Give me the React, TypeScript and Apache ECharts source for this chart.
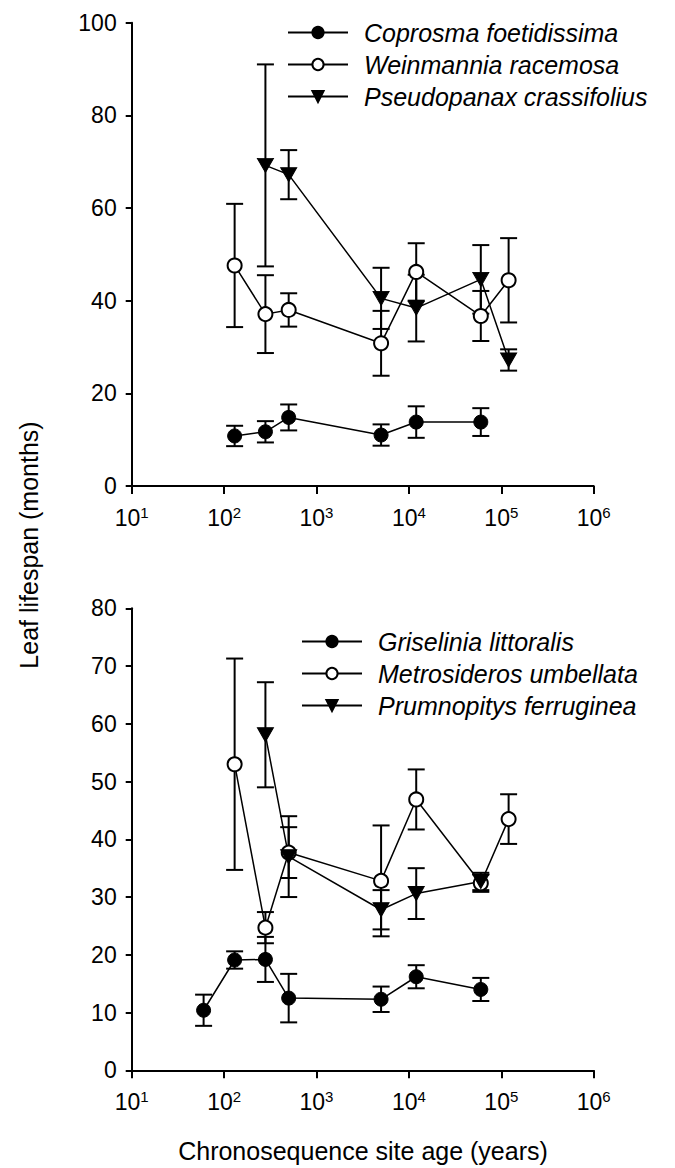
import React, { useEffect, useRef } from "react";
import * as echarts from "echarts";

// ---------- Data (top panel) ----------
const coprosmaAges = [130, 280, 500, 5000, 12000, 60000];
const coprosmaMean = [10.8, 11.7, 14.8, 11.0, 13.8, 13.8];
const coprosmaErr = [2.2, 2.3, 2.8, 2.3, 3.4, 3.0];

const weinmanniaAges = [130, 280, 500, 5000, 12000, 60000, 120000];
const weinmanniaMean = [47.6, 37.1, 38.0, 30.8, 46.2, 36.7, 44.4];
const weinmanniaErr = [13.3, 8.4, 3.6, 7.0, 6.2, 5.4, 9.1];

const pseudopanaxAges = [280, 500, 5000, 12000, 60000, 120000];
const pseudopanaxMean = [69.2, 67.2, 40.5, 38.4, 44.6, 27.2];
const pseudopanaxErr = [21.8, 5.3, 6.6, 7.2, 7.4, 2.3];

// ---------- Data (bottom panel) ----------
const griseliniaAges = [60, 130, 280, 500, 5000, 12000, 60000];
const griseliniaMean = [10.4, 19.1, 19.2, 12.5, 12.3, 16.2, 14.0];
const griseliniaErr = [2.7, 1.5, 3.9, 4.2, 2.2, 2.0, 2.0];

const metrosiderosAges = [130, 280, 500, 5000, 12000, 60000, 120000];
const metrosiderosMean = [53.0, 24.7, 37.7, 32.8, 46.9, 32.4, 43.5];
const metrosiderosErr = [18.3, 2.7, 4.4, 9.6, 5.2, 1.5, 4.3];

const prumnopitysAges = [280, 500, 5000, 12000, 60000];
const prumnopitysMean = [58.1, 37.0, 27.8, 30.6, 32.7];
const prumnopitysErr = [9.1, 7.0, 3.4, 4.4, 1.5];

const topNames = ["Coprosma foetidissima", "Weinmannia racemosa", "Pseudopanax crassifolius"];
const bottomNames = ["Griselinia littoralis", "Metrosideros umbellata", "Prumnopitys ferruginea"];
const xExponents = [1, 2, 3, 4, 5, 6];

const FONT = "Liberation Sans, Arial, sans-serif";

type Style = "filled" | "open" | "triangle";

function lineSeries(name: string, ages: number[], mean: number[], style: Style, axis: number) {
  const base: any = {
    name,
    type: "line",
    xAxisIndex: axis,
    yAxisIndex: axis,
    data: ages.map((a, i) => [a, mean[i]]),
    lineStyle: { color: "#000", width: 1.5 },
    z: 5,
  };
  if (style === "filled") {
    base.symbol = "circle";
    base.symbolSize = 14;
    base.itemStyle = { color: "#000", borderColor: "#000", borderWidth: 1 };
  } else if (style === "open") {
    base.symbol = "circle";
    base.symbolSize = 14;
    base.itemStyle = { color: "#fff", borderColor: "#000", borderWidth: 2 };
  } else {
    base.symbol = "triangle";
    base.symbolRotate = 180;
    base.symbolSize = [16, 14];
    base.itemStyle = { color: "#000", borderColor: "#000", borderWidth: 1 };
  }
  return base;
}

function errorSeries(ages: number[], mean: number[], err: number[], axis: number) {
  return {
    type: "custom",
    xAxisIndex: axis,
    yAxisIndex: axis,
    z: 3,
    silent: true,
    data: ages.map((a, i) => [a, mean[i] - err[i], mean[i] + err[i]]),
    encode: { x: 0, y: [1, 2] },
    renderItem: (params: any, api: any) => {
      const x = api.value(0);
      const lo = api.coord([x, api.value(1)]);
      const hi = api.coord([x, api.value(2)]);
      const w = 8.5;
      const st = { stroke: "#000", lineWidth: 2 };
      return {
        type: "group",
        children: [
          { type: "line", shape: { x1: lo[0], y1: lo[1], x2: hi[0], y2: hi[1] }, style: st },
          { type: "line", shape: { x1: lo[0] - w, y1: lo[1], x2: lo[0] + w, y2: lo[1] }, style: st },
          { type: "line", shape: { x1: hi[0] - w, y1: hi[1], x2: hi[0] + w, y2: hi[1] }, style: st },
        ],
      };
    },
  };
}

function xAxisDef(grid: number) {
  return {
    type: "log",
    logBase: 10,
    gridIndex: grid,
    min: 10,
    max: 1000000,
    splitLine: { show: false },
    minorTick: { show: false },
    axisLine: { show: true, lineStyle: { color: "#000", width: 2 } },
    axisTick: { show: true, length: 8, lineStyle: { color: "#000", width: 2 } },
    axisLabel: {
      margin: 19,
      color: "#000",
      formatter: (v: number) => {
        const e = Math.round(Math.log10(v));
        return xExponents.includes(e) ? `{b|10}{s|${e}}` : "";
      },
      rich: {
        b: { fontSize: 23, fontFamily: FONT, color: "#000" },
        s: { fontSize: 15, fontFamily: FONT, color: "#000", padding: [0, 0, 11, 0] },
      },
    },
  };
}

function yAxisDef(grid: number, max: number, interval: number) {
  return {
    type: "value",
    gridIndex: grid,
    min: 0,
    max,
    interval,
    splitLine: { show: false },
    axisLine: { show: true, lineStyle: { color: "#000", width: 2 } },
    axisTick: { show: true, length: 6, lineStyle: { color: "#000", width: 2 } },
    axisLabel: { margin: 15, color: "#000", fontSize: 23, fontFamily: FONT },
  };
}

function legendDef(names: string[], left: number, top: number) {
  return {
    data: names,
    orient: "vertical",
    left,
    top,
    padding: 0,
    itemWidth: 60,
    itemHeight: 14,
    itemGap: 7,
    textStyle: {
      fontSize: 25,
      fontStyle: "italic",
      fontFamily: FONT,
      color: "#000",
      padding: [0, 0, 0, 11],
    },
    inactiveColor: "#000",
  };
}

export default function App() {
  const ref = useRef<HTMLDivElement>(null);
  useEffect(() => {
    if (!ref.current) return;
    const chart = echarts.init(ref.current, undefined, { renderer: "svg" });
    chart.setOption({
      animation: false,
      backgroundColor: "#fff",
      grid: [
        { left: 131.7, top: 22.7, width: 462, height: 463.3 },
        { left: 131.7, top: 608.3, width: 462, height: 462 },
      ],
      xAxis: [xAxisDef(0), xAxisDef(1)],
      yAxis: [yAxisDef(0, 100, 20), yAxisDef(1, 80, 10)],
      legend: [legendDef(topNames, 287, 20), legendDef(bottomNames, 301, 629)],
      graphic: [
        {
          type: "text",
          x: 29,
          y: 545,
          rotation: Math.PI / 2,
          style: {
            text: "Leaf lifespan (months)",
            fontSize: 25,
            fontFamily: FONT,
            fill: "#000",
            align: "center",
            verticalAlign: "middle",
          },
        },
        {
          type: "text",
          x: 363,
          y: 1151,
          style: {
            text: "Chronosequence site age (years)",
            fontSize: 25,
            fontFamily: FONT,
            fill: "#000",
            align: "center",
            verticalAlign: "middle",
          },
        },
      ],
      series: [
        errorSeries(coprosmaAges, coprosmaMean, coprosmaErr, 0),
        errorSeries(weinmanniaAges, weinmanniaMean, weinmanniaErr, 0),
        errorSeries(pseudopanaxAges, pseudopanaxMean, pseudopanaxErr, 0),
        lineSeries(topNames[0], coprosmaAges, coprosmaMean, "filled", 0),
        lineSeries(topNames[1], weinmanniaAges, weinmanniaMean, "open", 0),
        lineSeries(topNames[2], pseudopanaxAges, pseudopanaxMean, "triangle", 0),
        errorSeries(griseliniaAges, griseliniaMean, griseliniaErr, 1),
        errorSeries(metrosiderosAges, metrosiderosMean, metrosiderosErr, 1),
        errorSeries(prumnopitysAges, prumnopitysMean, prumnopitysErr, 1),
        lineSeries(bottomNames[0], griseliniaAges, griseliniaMean, "filled", 1),
        lineSeries(bottomNames[1], metrosiderosAges, metrosiderosMean, "open", 1),
        lineSeries(bottomNames[2], prumnopitysAges, prumnopitysMean, "triangle", 1),
      ],
    });
    return () => chart.dispose();
  }, []);
  return (
    <div
      ref={ref}
      style={{ position: "absolute", left: 0, top: 0, width: 675, height: 1168, background: "#fff" }}
    />
  );
}
